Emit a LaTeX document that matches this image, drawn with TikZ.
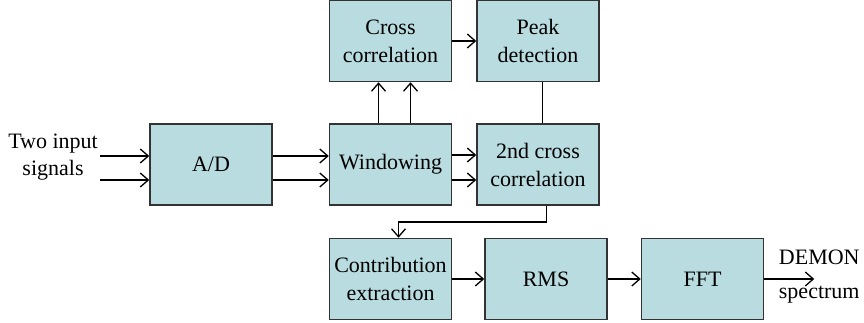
\documentclass[tikz,border=0pt]{standalone}
\usepackage{fontspec}
\setmainfont{Liberation Serif}
\usepackage{xcolor}
\usepackage{tikz}
\usetikzlibrary{arrows.meta, positioning, calc}
\definecolor{boxfill}{HTML}{B9DCE0}
\definecolor{boxline}{HTML}{333333}

\begin{document}
\begin{tikzpicture}[
    x=1pt, y=1pt,
    block/.style={rectangle, draw=boxline, line width=1.5pt, fill=boxfill, minimum width=122pt, minimum height=81pt, align=center, inner sep=2pt, font=\fontsize{22}{28}\selectfont},
    lbl/.style={align=center, inner sep=2pt, font=\fontsize{22}{27.5}\selectfont},
    arrow/.style={-{Straight Barb[length=8pt, width=14pt, line width=1.3pt]}, line width=1.5pt},
    line/.style={line width=1.5pt}
]
\useasboundingbox (0,0) rectangle (864,-323);

% Main flow
\node[block] (ad) at (211,-164.5) {A/D};
\node[block, right=56pt of ad] (win) {Windowing};
\node[block, right=24pt of win] (second) {2nd cross\\correlation};

% Upper branch
\node[block, above=41pt of win] (cross) {Cross\\correlation};
\node[block, above=41pt of second] (peak) {Peak\\detection};

% Lower branch
\node[block, below=32pt of win] (contrib) {Contribution\\extraction};
\node[block, right=32pt of contrib] (rms) {RMS};
\node[block, right=33pt of rms] (fft) {FFT};

% Input and output
\node[lbl, anchor=east] (inp) at (100,-157) {Two input\\signals};
\coordinate (in1) at ([yshift=8.5pt]ad.west);
\coordinate (in2) at ([yshift=-15.5pt]ad.west);
\coordinate (out) at ([xshift=50pt]fft.east);

% Arrows - Input
\draw[arrow] (inp.east |- in1) -- (in1);
\draw[arrow] (inp.east |- in2) -- (in2);
\draw[arrow] ([yshift=8.5pt]ad.east) -- ([yshift=8.5pt]win.west);
\draw[arrow] ([yshift=-15.5pt]ad.east) -- ([yshift=-15.5pt]win.west);

% Correlation flow
\draw[arrow] ([xshift=-12pt]win.north) -- ([xshift=-12pt]cross.south);
\draw[arrow] ([xshift=20pt]win.north) -- ([xshift=20pt]cross.south);
\draw[arrow] (cross) -- (peak);
\draw[line] ([xshift=4.5pt]peak.south) -- ([xshift=4.5pt]second.north);
\draw[arrow] ([yshift=9.5pt]win.east) -- ([yshift=9.5pt]second.west);
\draw[arrow] ([yshift=-15.5pt]win.east) -- ([yshift=-15.5pt]second.west);

% Spectrum flow
\draw[arrow] ([xshift=8.5pt]second.south) -- ++(0,-16) -| ([xshift=8pt]contrib.north);
\draw[arrow] (contrib) -- (rms);
\draw[arrow] (rms) -- (fft);
\draw[arrow] (fft) -- (out)
    node[lbl, above, xshift=5pt, yshift=12pt] {DEMON}
    node[lbl, below, xshift=5pt, yshift=-4pt] {spectrum};

\end{tikzpicture}
\end{document}
